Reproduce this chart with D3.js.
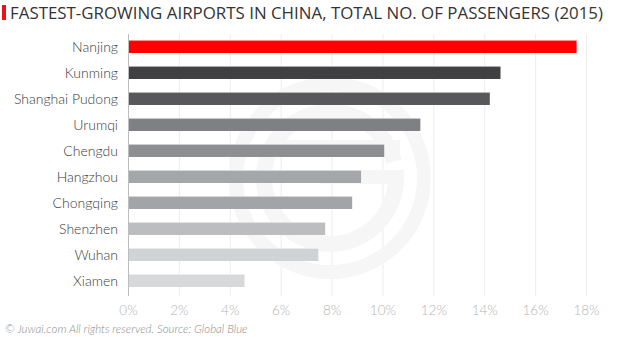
<!DOCTYPE html>
<html><head><meta charset="utf-8">
<script src="https://cdn.jsdelivr.net/npm/d3@7"></script>
<style>body{margin:0;background:#fff}svg{display:block}</style>
</head><body>
<script>
const titleText = "FASTEST-GROWING AIRPORTS IN CHINA, TOTAL NO. OF PASSENGERS (2015)";
const footerText = "© Juwai.com All rights reserved. Source: Global Blue";
const categories = ["Nanjing","Kunming","Shanghai Pudong","Urumqi","Chengdu","Hangzhou","Chongqing","Shenzhen","Wuhan","Xiamen"];
const values = [17.63, 14.64, 14.22, 11.49, 10.07, 9.16, 8.81, 7.75, 7.48, 4.58];
const colors = ["#ff0000","#404042","#58585b","#7f8083","#8e8f92","#a5a6a9","#a3a4a7","#bcbdbf","#d1d2d4","#d7d8da"];
const ticks = [0,2,4,6,8,10,12,14,16,18];

const W = 619, H = 337;
const svg = d3.select("body").append("svg").attr("width", W).attr("height", H);

const x = d3.scaleLinear().domain([0, 18]).range([128, 586]);
const y = d3.scaleBand().domain(categories).range([34, 294]).paddingInner(0.54).paddingOuter(0.27);

// gridlines
svg.append("g").selectAll("line").data(ticks.slice(1)).join("line")
  .attr("x1",d=>x(d)+0.5).attr("x2",d=>x(d)+0.5).attr("y1",34).attr("y2",296)
  .attr("stroke","#ededed").attr("stroke-width",1);

// watermark
const wmc = "#f6f6f6";
const wm = svg.append("g").attr("fill","none").attr("stroke",wmc);
const cx = 330, cy = 178;
wm.append("circle").attr("cx",cx).attr("cy",cy).attr("r",94).attr("stroke-width",14);
const arc = d3.arc().innerRadius(58).outerRadius(74).startAngle(0.52*Math.PI).endAngle(2.42*Math.PI);
wm.append("path").attr("d",arc()).attr("transform",`translate(${cx},${cy})`).attr("fill",wmc).attr("stroke","none");
wm.append("rect").attr("x",cx-58).attr("y",cy-38).attr("width",128).attr("height",14).attr("fill",wmc).attr("stroke","none");
wm.append("rect").attr("x",cx-10).attr("y",cy-8).attr("width",84).attr("height",14).attr("fill",wmc).attr("stroke","none");

// bars
svg.append("g").selectAll("rect").data(categories).join("rect")
  .attr("x", x(0)).attr("y", d=>y(d)).attr("width", (d,i)=>x(values[i])-x(0)).attr("height", y.bandwidth())
  .attr("fill", (d,i)=>colors[i]);
svg.append("g").selectAll("rect").data(categories).join("rect")
  .attr("x", x(0)).attr("y", d=>y(d)-1).attr("width", (d,i)=>x(values[i])-x(0)).attr("height", 1)
  .attr("fill", (d,i)=>d3.interpolateRgb(colors[i],"#fff")(0.55));

// y axis line
svg.append("line").attr("x1",x(0)+0.5).attr("x2",x(0)+0.5).attr("y1",34).attr("y2",296)
  .attr("stroke","#bdbdbd").attr("stroke-width",1);

// category labels
svg.append("g").selectAll("text").data(categories).join("text")
  .attr("x",118).attr("y",d=>y(d)+y.bandwidth()/2).attr("dy","0.36em")
  .attr("text-anchor","end").attr("font-family","Lato, 'Open Sans', sans-serif")
  .attr("font-size",14).attr("font-weight",300).attr("fill","#3a3a3a").text(d=>d);

// x axis
const xAxis = d3.axisBottom(x).tickValues(ticks).tickFormat(d=>d+"%").tickSize(0).tickPadding(0);
const gx = svg.append("g").attr("transform","translate(0,315)").call(xAxis);
gx.select(".domain").remove();
gx.selectAll("text").attr("font-family","Lato, sans-serif").attr("font-size",13.5).attr("font-weight",300)
  .attr("fill","#b5b5b5").attr("dy","0");

// title
svg.append("rect").attr("x",2).attr("y",5).attr("width",4).attr("height",15).attr("fill","#e8141c");
svg.append("text").attr("x",10).attr("y",19).attr("font-family","'Open Sans', sans-serif")
  .attr("font-size",16.5).attr("font-weight",500).attr("fill","#333")
  .attr("textLength",593).attr("lengthAdjust","spacingAndGlyphs").text(titleText);

// footer
svg.append("text").attr("x",5).attr("y",333).attr("font-family","Lato, sans-serif")
  .attr("font-size",11.5).attr("font-style","italic").attr("font-weight",300).attr("fill","#8a8a8a").text(footerText);
</script>
</body></html>
